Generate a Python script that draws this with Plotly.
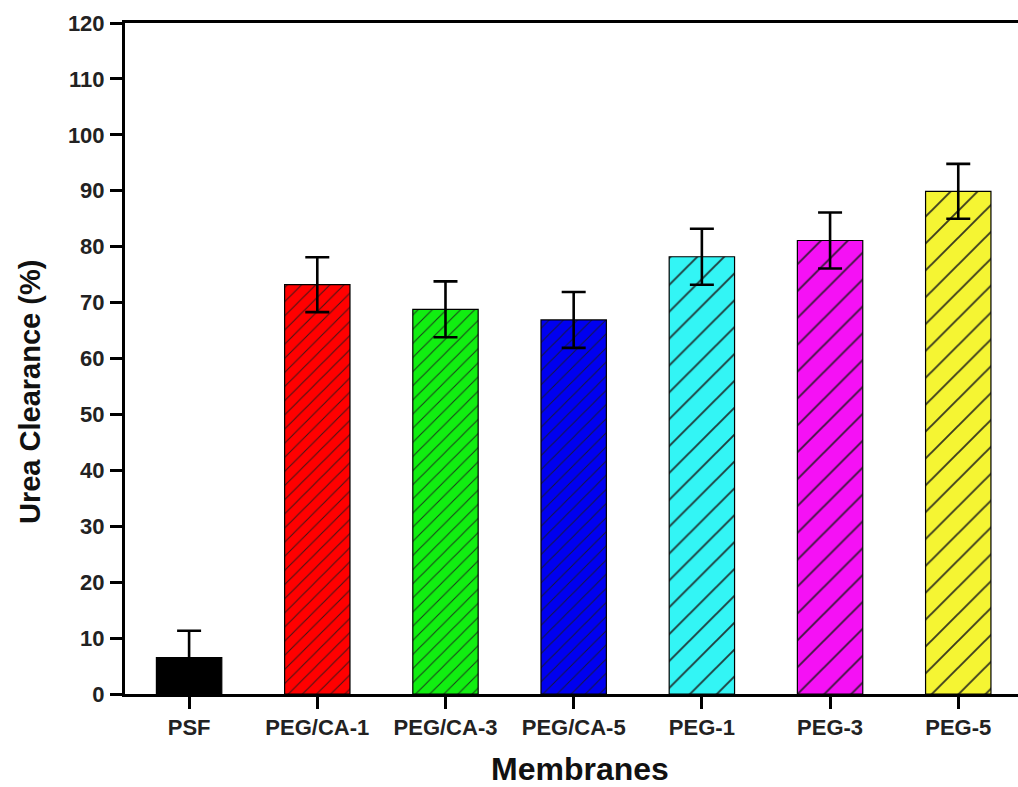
import plotly.graph_objects as go

# Urea clearance of the membrane series
membranes = ["PSF", "PEG/CA-1", "PEG/CA-3", "PEG/CA-5", "PEG-1", "PEG-3", "PEG-5"]
clearance = [6.5, 73.2, 68.8, 66.9, 78.2, 81.1, 89.9]
clearance_err = [4.8, 4.9, 5.0, 5.0, 5.0, 5.0, 4.9]

bar_colors = ["#000000", "#FF0000", "#11EE11", "#0000F0", "#33F5F5", "#F511F5", "#F5F533"]
hatch_shapes = ["", "/", "/", "/", "/", "/", "/"]
hatch_sizes = [10, 10, 10, 10, 19, 19, 19]

fig = go.Figure()
fig.add_trace(go.Bar(
    x=list(range(len(membranes))),
    y=clearance,
    width=0.51,
    marker=dict(
        # solid fill for the unhatched bar; hatched bars take their fill from the pattern
        color=bar_colors[0],
        line=dict(color="#000000", width=1.2),
        pattern=dict(
            shape=hatch_shapes,
            size=hatch_sizes,
            solidity=0.1,
            fgcolor=["#1a1a1a"] * len(membranes),
            fgopacity=0.85,
            bgcolor=bar_colors,
            fillmode="replace",
        ),
    ),
    error_y=dict(type="data", array=clearance_err, visible=True,
                 color="#000000", thickness=2.6, width=12),
    showlegend=False,
))

tick_font = dict(family="Liberation Sans, Arial, sans-serif", size=22,
                 color="#222222", weight="bold")
title_font = dict(family="Liberation Sans, Arial, sans-serif", size=29,
                  color="#111111", weight="bold")

fig.update_layout(
    width=1018, height=787,
    margin=dict(l=125, r=0, t=23, b=93),
    plot_bgcolor="#FFFFFF", paper_bgcolor="#FFFFFF",
    xaxis=dict(
        range=[-0.5, 6.466],
        tickmode="array",
        tickvals=list(range(len(membranes))),
        ticktext=membranes,
        tickfont=tick_font,
        ticks="outside", ticklen=12, tickwidth=2.6, tickcolor="#000000",
        showline=True, linecolor="#000000", linewidth=3, mirror=True,
        showgrid=False, zeroline=False,
    ),
    yaxis=dict(
        range=[0, 120],
        tickmode="linear", tick0=0, dtick=10,
        tickfont=tick_font,
        ticks="outside", ticklen=12, tickwidth=2.6, tickcolor="#000000",
        ticklabelstandoff=1,
        showline=True, linecolor="#000000", linewidth=3,
        showgrid=False, zeroline=False,
    ),
    annotations=[
        dict(text="Membranes", x=580, y=787 - 769,
             showarrow=False, font=dict(title_font, size=32)),
        dict(text="Urea Clearance (%)", x=30, y=787 - 392, textangle=-90,
             showarrow=False, font=title_font),
    ],
)

# title annotations are placed in pixel units of the page
for ann in fig.layout.annotations:
    ann.xref = "paper"
    ann.yref = "paper"
    ann.x = (ann.x - 125) / (1018 - 125)
    ann.y = (ann.y - 93) / (787 - 23 - 93)
    ann.xanchor = "center"
    ann.yanchor = "middle"

fig.write_html("out.html")
